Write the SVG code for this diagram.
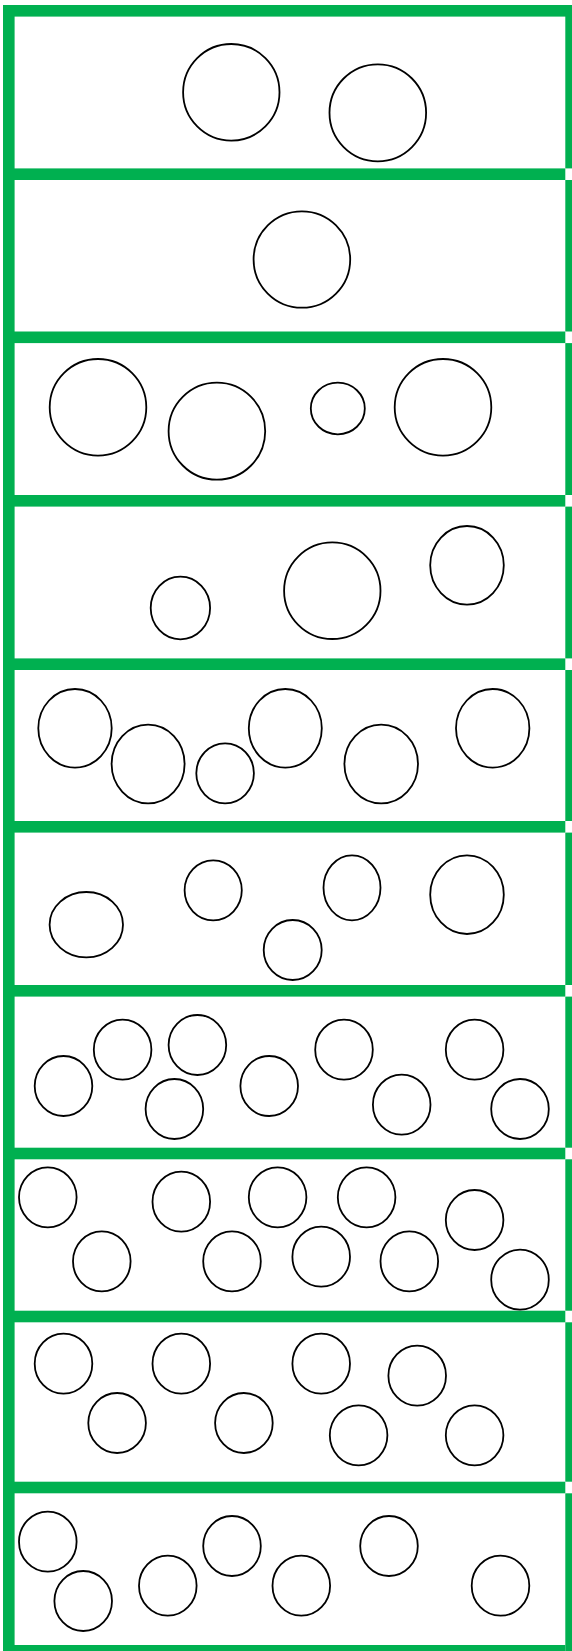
<svg xmlns="http://www.w3.org/2000/svg" width="572" height="1651" viewBox="0 0 572 1651">
<style>
.g{fill:#00B050}
.c{fill:#fff;stroke:#000;stroke-width:1.8}
</style>
<rect width="572" height="1651" fill="#fff"/>
<g id="frame">
<rect class="g" x="3" y="5" width="569" height="11.6"/>
<rect class="g" x="3" y="5" width="11.6" height="1646"/>
<rect class="g" x="3" y="168.4" width="562.3" height="11.6"/>
<rect class="g" x="3" y="331.5" width="562.3" height="11.6"/>
<rect class="g" x="3" y="495" width="562.3" height="11.6"/>
<rect class="g" x="3" y="658.4" width="562.3" height="11.6"/>
<rect class="g" x="3" y="821" width="562.3" height="11.6"/>
<rect class="g" x="3" y="985" width="562.3" height="11.6"/>
<rect class="g" x="3" y="1147.7" width="562.3" height="11.6"/>
<rect class="g" x="3" y="1310.7" width="562.3" height="11.6"/>
<rect class="g" x="3" y="1481.7" width="562.3" height="11.6"/>
<rect class="g" x="3" y="1645" width="562.3" height="6"/>
<rect class="g" x="565.3" y="5" width="6.7" height="163.4"/>
<rect class="g" x="565.3" y="180" width="6.7" height="151.5"/>
<rect class="g" x="565.3" y="343.1" width="6.7" height="151.9"/>
<rect class="g" x="565.3" y="506.6" width="6.7" height="151.8"/>
<rect class="g" x="565.3" y="670" width="6.7" height="151"/>
<rect class="g" x="565.3" y="832.6" width="6.7" height="152.4"/>
<rect class="g" x="565.3" y="996.6" width="6.7" height="151.1"/>
<rect class="g" x="565.3" y="1159.3" width="6.7" height="151.4"/>
<rect class="g" x="565.3" y="1322.3" width="6.7" height="159.4"/>
<rect class="g" x="565.3" y="1493.3" width="6.7" height="157.7"/>
</g>
<g id="panel1">
<ellipse class="c" cx="231.3" cy="92.3" rx="48.2" ry="48.3"/>
<ellipse class="c" cx="377.8" cy="112.8" rx="48.3" ry="48.5"/>
</g>
<g id="panel2">
<ellipse class="c" cx="301.9" cy="259.5" rx="48.3" ry="48.2"/>
</g>
<g id="panel3">
<ellipse class="c" cx="98" cy="407.3" rx="48.3" ry="48.3"/>
<ellipse class="c" cx="216.9" cy="431.2" rx="48.3" ry="48.5"/>
<ellipse class="c" cx="337.8" cy="408.5" rx="27" ry="25.8"/>
<ellipse class="c" cx="443" cy="407.3" rx="48.3" ry="48.3"/>
</g>
<g id="panel4">
<ellipse class="c" cx="180.4" cy="608" rx="29.7" ry="31.3"/>
<ellipse class="c" cx="332.3" cy="590.7" rx="48.2" ry="48.3"/>
<ellipse class="c" cx="467" cy="565.3" rx="36.8" ry="39.3"/>
</g>
<g id="panel5">
<ellipse class="c" cx="75" cy="728.3" rx="36.7" ry="39.3"/>
<ellipse class="c" cx="148.1" cy="764" rx="36.5" ry="39.3"/>
<ellipse class="c" cx="225.1" cy="773.3" rx="28.8" ry="30"/>
<ellipse class="c" cx="285.3" cy="728.3" rx="36.5" ry="39.3"/>
<ellipse class="c" cx="381.2" cy="764" rx="36.8" ry="39.3"/>
<ellipse class="c" cx="492.7" cy="728.3" rx="36.7" ry="39.3"/>
</g>
<g id="panel6">
<ellipse class="c" cx="86.3" cy="924.7" rx="36.7" ry="32.7"/>
<ellipse class="c" cx="213.2" cy="890.3" rx="28.6" ry="30"/>
<ellipse class="c" cx="292.7" cy="950" rx="29" ry="30"/>
<ellipse class="c" cx="352" cy="887.8" rx="28.5" ry="32.5"/>
<ellipse class="c" cx="467" cy="894.7" rx="36.8" ry="39.3"/>
</g>
<g id="panel7">
<ellipse class="c" cx="63.5" cy="1086" rx="28.8" ry="30"/>
<ellipse class="c" cx="122.6" cy="1049.7" rx="28.8" ry="30"/>
<ellipse class="c" cx="197.4" cy="1045" rx="28.8" ry="30"/>
<ellipse class="c" cx="174.4" cy="1109" rx="28.8" ry="30"/>
<ellipse class="c" cx="269.2" cy="1086" rx="28.8" ry="30"/>
<ellipse class="c" cx="344" cy="1049.7" rx="28.8" ry="30"/>
<ellipse class="c" cx="401.7" cy="1104.7" rx="28.8" ry="30"/>
<ellipse class="c" cx="474.6" cy="1049.7" rx="28.8" ry="30"/>
<ellipse class="c" cx="520" cy="1109" rx="28.8" ry="30"/>
</g>
<g id="panel8">
<ellipse class="c" cx="47.8" cy="1197.3" rx="28.8" ry="30"/>
<ellipse class="c" cx="101.8" cy="1261.3" rx="28.8" ry="30"/>
<ellipse class="c" cx="181.3" cy="1201.7" rx="28.8" ry="30"/>
<ellipse class="c" cx="232" cy="1261.3" rx="28.8" ry="30"/>
<ellipse class="c" cx="277.6" cy="1197.3" rx="28.8" ry="30"/>
<ellipse class="c" cx="321.2" cy="1256.7" rx="28.8" ry="30"/>
<ellipse class="c" cx="366.6" cy="1197.3" rx="28.8" ry="30"/>
<ellipse class="c" cx="409.3" cy="1261.3" rx="28.8" ry="30"/>
<ellipse class="c" cx="474.6" cy="1220" rx="28.8" ry="30"/>
<ellipse class="c" cx="520" cy="1279.7" rx="28.8" ry="30"/>
</g>
<g id="panel9">
<ellipse class="c" cx="63.5" cy="1363.7" rx="28.8" ry="30"/>
<ellipse class="c" cx="181.3" cy="1363.7" rx="28.8" ry="30"/>
<ellipse class="c" cx="321.2" cy="1363.7" rx="28.8" ry="30"/>
<ellipse class="c" cx="417.2" cy="1375.7" rx="28.8" ry="30"/>
<ellipse class="c" cx="117.1" cy="1423" rx="28.8" ry="30"/>
<ellipse class="c" cx="243.9" cy="1423" rx="28.8" ry="30"/>
<ellipse class="c" cx="358.6" cy="1435.3" rx="28.8" ry="30"/>
<ellipse class="c" cx="474.6" cy="1435.3" rx="28.8" ry="30"/>
</g>
<g id="panel10">
<ellipse class="c" cx="47.8" cy="1541.7" rx="28.8" ry="30"/>
<ellipse class="c" cx="83.2" cy="1601" rx="28.8" ry="30"/>
<ellipse class="c" cx="167.8" cy="1585.7" rx="28.8" ry="30"/>
<ellipse class="c" cx="232" cy="1546" rx="28.8" ry="30"/>
<ellipse class="c" cx="301.3" cy="1585.7" rx="28.8" ry="30"/>
<ellipse class="c" cx="389" cy="1546" rx="28.8" ry="30"/>
<ellipse class="c" cx="500.5" cy="1585.7" rx="28.8" ry="30"/>
</g>
</svg>
